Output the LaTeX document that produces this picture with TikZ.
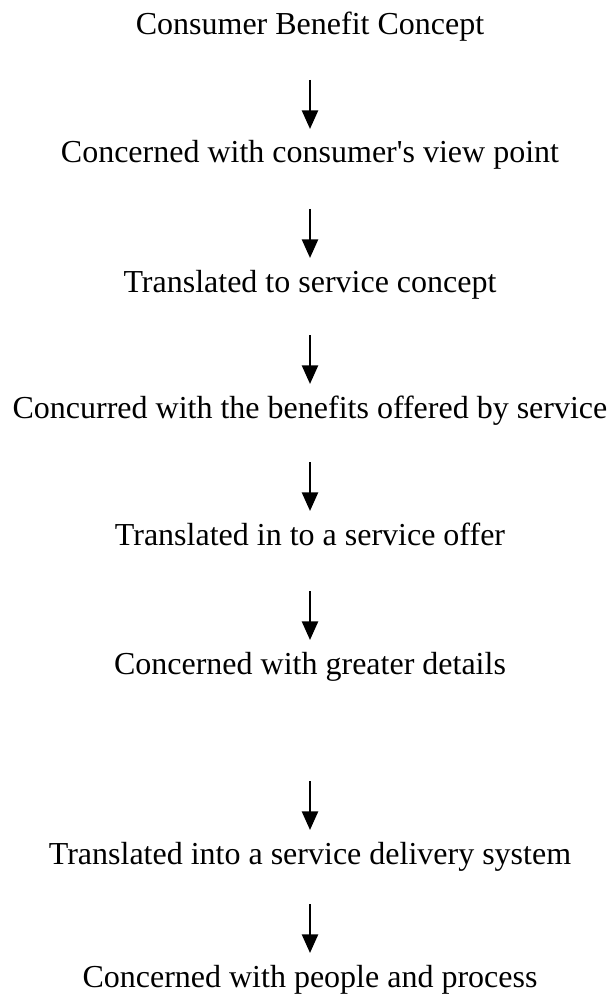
\documentclass[tikz,border=0pt]{standalone}
\usepackage{fontspec}
\setmainfont{Liberation Serif}
\usetikzlibrary{arrows.meta,calc}
\begin{document}
\begin{tikzpicture}[x=0.75pt,y=-0.75pt,
  stage/.style={anchor=base,inner sep=0pt,font=\fontsize{24pt}{28pt}\selectfont},
  flow/.style={line width=1.9pt,-{Triangle[length=14pt,width=12pt]}}]
\useasboundingbox (0,0) rectangle (613,998);
\node[stage] (t1) at (310,35)  {Consumer Benefit Concept};
\node[stage] (t2) at (310,163) {Concerned with consumer\textquotesingle s view point};
\node[stage] (t3) at (310,292) {Translated to service concept};
\node[stage] (t4) at (310,418) {Concurred with the benefits offered by service};
\node[stage] (t5) at (310,545) {Translated in to a service offer};
\node[stage] (t6) at (310,674) {Concerned with greater details};
\node[stage] (t7) at (310,864) {Translated into a service delivery system};
\node[stage] (t8) at (310,987) {Concerned with people and process};
% each arrow ends a little above the cap line of the stage it points to
\foreach \a/\b in {t1/t2,t2/t3,t3/t4,t4/t5,t5/t6,t6/t7,t7/t8}{
  \draw[flow] ($(\b.base)+(0,-83)$) -- ($(\b.base)+(0,-34)$);
}
\end{tikzpicture}
\end{document}
